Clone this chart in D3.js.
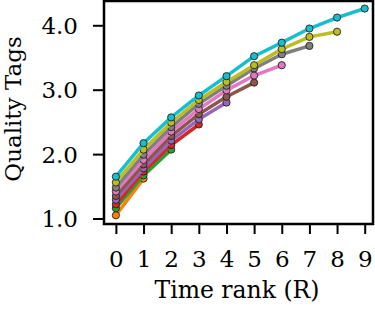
<!DOCTYPE html>
<html><head><meta charset="utf-8">
<script src="https://cdn.jsdelivr.net/npm/d3@7"></script>
<style>body{margin:0;background:#fff}svg{display:block}</style>
</head><body>
<svg id="c" width="375" height="311"></svg>
<script>
const ranks = [0,1,2,3,4,5,6,7,8,9];
const seriesNames = ["orange","green","red","purple","brown","pink","gray","olive","cyan"];
const seriesColors = ["#ff7f0e","#2ca02c","#d62728","#9467bd","#8c564b","#e377c2","#7f7f7f","#bcbd22","#17becf"];
const orangeVals = [1.05,1.62];
const greenVals  = [1.16,1.67,2.07];
const redVals    = [1.22,1.73,2.14,2.46];
const purpleVals = [1.29,1.78,2.21,2.54,2.80];
const brownVals  = [1.35,1.84,2.28,2.62,2.89,3.11];
const pinkVals   = [1.42,1.91,2.35,2.70,2.99,3.22,3.38];
const grayVals   = [1.48,1.99,2.42,2.78,3.06,3.33,3.55,3.68];
const oliveVals  = [1.56,2.07,2.49,2.84,3.12,3.38,3.63,3.82,3.90];
const cyanVals   = [1.65,2.17,2.57,2.91,3.21,3.52,3.73,3.95,4.12,4.26];
const allVals = [orangeVals,greenVals,redVals,purpleVals,brownVals,pinkVals,grayVals,oliveVals,cyanVals];
const yTicks = [1.0,2.0,3.0,4.0];
const xLabel = "Time rank (R)";
const yLabel = "Quality Tags";

const L=104, R=373, T=1, B=224;
const font = "DejaVu Serif";
const svg = d3.select("#c");
const x = d3.scaleLinear().domain([-0.43,9.3]).range([L,R]);
const y = d3.scaleLinear().domain([0.915,4.377]).range([B,T]);

const line = d3.line().x((d,i)=>x(ranks[i])).y(d=>y(d));
allVals.forEach((vals,k)=>{
  const g = svg.append("g");
  g.append("path").attr("d", line(vals)).attr("fill","none")
    .attr("stroke", seriesColors[k]).attr("stroke-width",3.5).attr("stroke-linejoin","round");
  g.selectAll("circle").data(vals).join("circle")
    .attr("cx",(d,i)=>x(ranks[i])).attr("cy",d=>y(d)).attr("r",3.6)
    .attr("fill",seriesColors[k]).attr("stroke","#222").attr("stroke-width",0.9);
});

const xa = svg.append("g").attr("transform",`translate(0,${B})`)
  .call(d3.axisBottom(x).tickValues(ranks).tickFormat(d3.format("d")).tickSize(10));
const ya = svg.append("g").attr("transform",`translate(${L},0)`)
  .call(d3.axisLeft(y).tickValues(yTicks).tickFormat(d3.format(".1f")).tickSize(11));
[xa,ya].forEach(a=>{
  a.select(".domain").remove();
  a.selectAll(".tick line").attr("stroke","#000").attr("stroke-width",2);
  a.selectAll(".tick text").attr("font-family",font).attr("font-size",23).attr("fill","#000");
});
xa.selectAll(".tick text").attr("y",42.5).attr("dy",0);
ya.selectAll(".tick text").attr("x",-26).attr("dy","0.36em");
svg.append("rect").attr("x",L).attr("y",T).attr("width",R-L).attr("height",B-T)
  .attr("fill","none").attr("stroke","#000").attr("stroke-width",2.5);

svg.append("text").attr("x",237).attr("y",298).attr("text-anchor","middle")
  .attr("font-family",font).attr("font-size",23.5).text(xLabel);
svg.append("text").attr("transform",`translate(20.5,109) rotate(-90)`).attr("text-anchor","middle")
  .attr("font-family",font).attr("font-size",23).text(yLabel);
</script>
</body></html>
